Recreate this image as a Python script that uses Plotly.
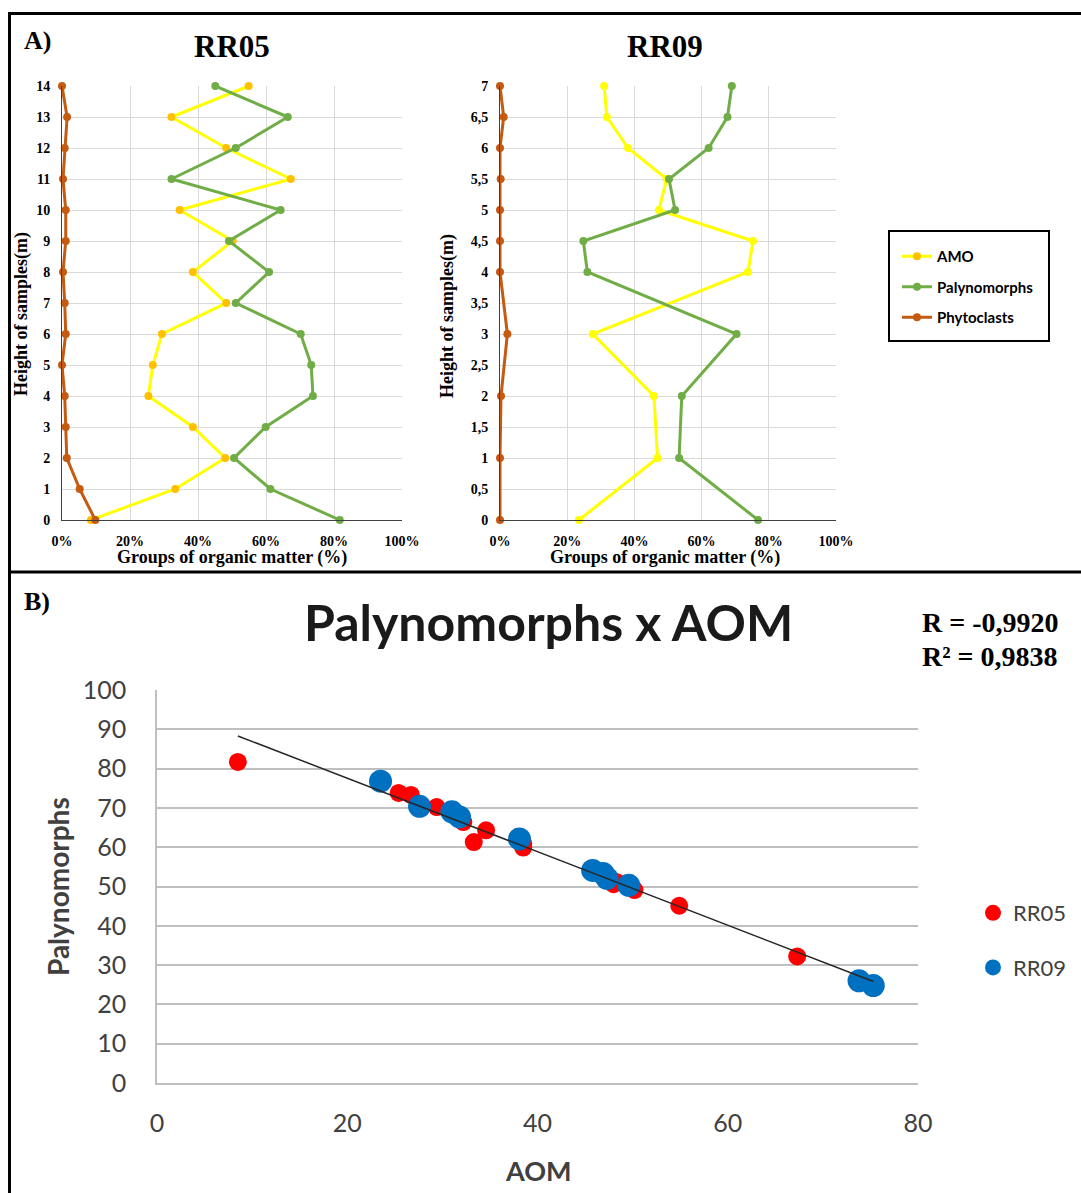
import numpy as np
import plotly.graph_objects as go

W, H = 1081, 1193

# ---- RR05 section: organic matter groups (%) by sample height (m)
height05 = [0, 1, 2, 3, 4, 5, 6, 7, 8, 9, 10, 11, 12, 13, 14]
amo05 = [8.5, 33.3, 48.0, 38.5, 25.4, 26.7, 29.4, 48.3, 38.5, 50.2, 34.6, 67.3, 48.3, 32.2, 54.9]
paly05 = [81.7, 61.3, 50.6, 59.9, 73.8, 73.3, 70.2, 51.1, 60.9, 49.1, 64.3, 32.2, 51.1, 66.4, 45.1]
phyto05 = [9.8, 5.2, 1.4, 1.1, 0.8, 0.0, 1.1, 0.8, 0.3, 1.1, 1.1, 0.3, 0.8, 1.5, 0.0]

# ---- RR09 section
height09 = [0, 1, 2, 3, 4, 4.5, 5, 5.5, 6, 6.5, 7]
amo09 = [23.5, 46.9, 45.8, 27.6, 73.8, 75.3, 47.3, 49.6, 38.1, 31.8, 31.0]
paly09 = [76.8, 53.3, 54.1, 70.4, 26.0, 24.8, 52.1, 50.3, 62.1, 67.7, 69.0]
phyto09 = [0.0, 0.0, 0.3, 2.2, 0.0, 0.0, 0.0, 0.2, 0.0, 1.1, 0.0]

# ---- tick labels
pct_vals = [0, 20, 40, 60, 80, 100]
pct_text = ["0%", "20%", "40%", "60%", "80%", "100%"]
h05_vals = list(range(15))
h05_text = [str(v) for v in h05_vals]
h09_vals = [0, 0.5, 1, 1.5, 2, 2.5, 3, 3.5, 4, 4.5, 5, 5.5, 6, 6.5, 7]
h09_text = ["0", "0,5", "1", "1,5", "2", "2,5", "3", "3,5", "4", "4,5", "5", "5,5", "6", "6,5", "7"]
aom_ticks = [0, 20, 40, 60, 80]
paly_ticks = [0, 10, 20, 30, 40, 50, 60, 70, 80, 90, 100]

SERIF = "Liberation Serif"
SANS = "Lato"
YELLOW = "#FFFF00"
ORANGE = "#FFC000"
GREEN = "#70AD47"
BROWN = "#C55A11"


def fx(p):
    return p / W


def fy(p):
    return 1 - p / H


fig = go.Figure()

# Profiles: RR05 (axes x/y) and RR09 (axes x2/y2)
profiles = [
    ("x", "y", height05, amo05, paly05, phyto05, ORANGE, True),
    ("x2", "y2", height09, amo09, paly09, phyto09, YELLOW, False),
]
for xa, ya, h, amo, paly, phy, amo_marker, show in profiles:
    for name, vals, lc, mc in [
        ("AMO", amo, YELLOW, amo_marker),
        ("Palynomorphs", paly, GREEN, GREEN),
        ("Phytoclasts", phy, BROWN, BROWN),
    ]:
        fig.add_trace(go.Scatter(
            x=vals, y=h, xaxis=xa, yaxis=ya, name=name,
            mode="lines+markers",
            line=dict(color=lc, width=3),
            marker=dict(color=mc, size=8),
            showlegend=show, legendgroup=name, legend="legend",
            cliponaxis=False,
        ))

# Scatter: Palynomorphs vs AOM
fig.add_trace(go.Scatter(
    x=amo05, y=paly05, xaxis="x3", yaxis="y3", name="RR05", mode="markers",
    marker=dict(color="#FF0000", size=18), legend="legend2", legendgroup="RR05",
))
fig.add_trace(go.Scatter(
    x=amo09, y=paly09, xaxis="x3", yaxis="y3", name="RR09", mode="markers",
    marker=dict(color="#0070C0", size=23), legend="legend2", legendgroup="RR09",
))

all_x = np.array(amo05 + amo09)
all_y = np.array(paly05 + paly09)
slope, intercept = np.polyfit(all_x, all_y, 1)
xs = np.array([all_x.min(), all_x.max()])
fig.add_trace(go.Scatter(
    x=xs, y=slope * xs + intercept, xaxis="x3", yaxis="y3", mode="lines",
    line=dict(color="#262626", width=1.5), showlegend=False, hoverinfo="skip",
))

tick_a = dict(family=SERIF, size=14, color="#000000", weight="bold")
common_a = dict(
    showgrid=True, gridcolor="#D9D9D9", gridwidth=1, zeroline=False,
    showline=True, linecolor="#404040", linewidth=1,
    ticks="outside", tickcolor="rgba(0,0,0,0)", tickfont=tick_a,
    automargin=False, fixedrange=True,
)
tick_b = dict(family=SANS, size=25, color="#404040")

fig.update_layout(
    template="none",
    width=W, height=H,
    margin=dict(l=0, r=0, t=0, b=0),
    paper_bgcolor="white", plot_bgcolor="white",
    xaxis=dict(domain=[fx(62), fx(402)], range=[0, 100], tickvals=pct_vals,
               ticktext=pct_text, ticklen=8, anchor="y", **common_a),
    yaxis=dict(domain=[fy(520), fy(86)], range=[0, 14], tickvals=h05_vals,
               ticktext=h05_text, ticklen=8, anchor="x", **common_a),
    xaxis2=dict(domain=[fx(500), fx(836)], range=[0, 100], tickvals=pct_vals,
                ticktext=pct_text, ticklen=8, anchor="y2", **common_a),
    yaxis2=dict(domain=[fy(520), fy(86)], range=[0, 7], tickvals=h09_vals,
                ticktext=h09_text, ticklen=8, anchor="x2", **common_a),
    xaxis3=dict(domain=[fx(157), fx(918)], range=[0, 80], tickvals=aom_ticks,
                showgrid=False, zeroline=False, showline=True, linecolor="#BFBFBF",
                linewidth=1.5, ticks="outside", ticklen=17, tickcolor="rgba(0,0,0,0)",
                tickfont=tick_b, anchor="y3", automargin=False, fixedrange=True),
    yaxis3=dict(domain=[fy(1083), fy(690)], range=[0, 100], tickvals=paly_ticks,
                showgrid=True, gridcolor="#BFBFBF", gridwidth=1.5, zeroline=False,
                showline=True, linecolor="#BFBFBF", linewidth=1.5,
                ticks="outside", ticklen=24, tickcolor="rgba(0,0,0,0)",
                tickfont=tick_b, anchor="x3", automargin=False, fixedrange=True),
    legend=dict(
        x=fx(897), y=fy(240), xanchor="left", yanchor="top",
        bgcolor="rgba(0,0,0,0)", borderwidth=0, itemwidth=30,
        tracegroupgap=8, traceorder="grouped",
        font=dict(family=SANS, size=15, color="#000000", weight="bold"),
    ),
    legend2=dict(
        x=fx(973), y=fy(892), xanchor="left", yanchor="top",
        bgcolor="rgba(0,0,0,0)", borderwidth=0, itemwidth=30,
        tracegroupgap=23, traceorder="grouped",
        font=dict(family=SANS, size=22, color="#404040"),
    ),
    showlegend=True,
)

# Frame around both panels and the divider between them
fig.add_shape(type="rect", xref="paper", yref="paper",
              x0=fx(9.5), x1=fx(1090), y0=fy(1200), y1=fy(13.5),
              line=dict(color="black", width=3), layer="above")
fig.add_shape(type="line", xref="paper", yref="paper",
              x0=fx(9.5), x1=fx(1090), y0=fy(572), y1=fy(572),
              line=dict(color="black", width=3), layer="above")
# Legend frame for panel A
fig.add_shape(type="rect", xref="paper", yref="paper",
              x0=fx(889), x1=fx(1049), y0=fy(341), y1=fy(231),
              line=dict(color="black", width=2), layer="above")


def label(text, x, y, size, family=SERIF, weight="bold", color="#000000",
          angle=0, xanchor="center"):
    fig.add_annotation(text=text, x=fx(x), y=fy(y), xref="paper", yref="paper",
                       showarrow=False, textangle=angle, xanchor=xanchor,
                       yanchor="middle",
                       font=dict(family=family, size=size, color=color, weight=weight))


label("A)", 22, 40, 26, xanchor="left")
label("B)", 22, 601, 26, xanchor="left")
label("RR05", 232, 46, 31)
label("RR09", 665, 46, 31)
label("Height of samples(m)", 22, 314, 18, angle=-90)
label("Height of samples(m)", 447, 316, 18, angle=-90)
label("Groups of organic matter (%)", 232, 557, 18)
label("Groups of organic matter (%)", 665, 557, 18)
label("Palynomorphs x AOM", 548, 622, 50, family=SANS, weight="bold", color="#1A1A1A")
label("R = -0,9920", 920, 622, 28, xanchor="left")
label("R² = 0,9838", 920, 657, 28, xanchor="left")
label("AOM", 538, 1170, 27, family=SANS, weight="bold", color="#404040")
label("Palynomorphs", 58, 887, 28, family=SANS, weight="bold", color="#404040", angle=-90)

fig.write_html("out.html")
